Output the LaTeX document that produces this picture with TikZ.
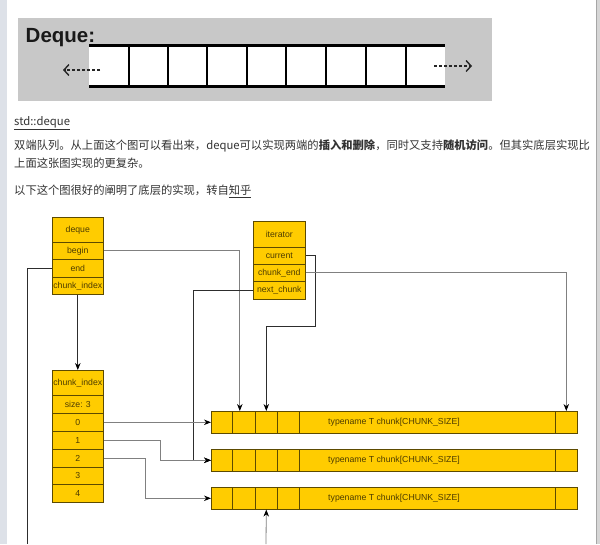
\documentclass[tikz,border=0pt]{standalone}
\usepackage{fontspec}
\setmainfont{Liberation Sans}
\newfontfamily\cjk{Noto Sans CJK SC}
\usetikzlibrary{arrows.meta}

\definecolor{chunkfill}{RGB}{255,204,0}
\definecolor{chunkline}{RGB}{92,74,0}
\definecolor{chunktext}{RGB}{77,60,0}
\definecolor{pagetext}{RGB}{51,51,51}
\definecolor{linegray}{RGB}{128,128,128}
\definecolor{linedark}{RGB}{45,45,45}
\definecolor{boxgray}{RGB}{200,200,200}
\definecolor{sidebar}{RGB}{221,225,232}
\definecolor{edgegray}{RGB}{214,214,214}

\newcommand{\lbl}{\fontsize{8.7}{10}\selectfont}
\newcommand{\pg}{\cjk\fontsize{11.3}{14}\selectfont}

\tikzset{
  cell/.style={draw=chunkline, fill=chunkfill, text=chunktext, font=\lbl,
               line width=0.6pt, inner sep=0pt, anchor=north west, minimum width=51pt},
  slot/.style={cell, minimum height=22pt},
  slottxt/.style={text=chunktext, font=\lbl, inner sep=0pt},
  pagetxt/.style={text=pagetext, font=\pg, inner sep=0pt, anchor=base west},
  link/.style={draw=linegray, line width=0.8pt, -{Stealth[length=7pt,width=5.5pt,color=black]}},
  darklink/.style={link, draw=linedark},
  flow/.style={line width=1.4pt, draw=black!85, dash pattern=on 3pt off 2pt,
               -{Straight Barb[length=5pt,width=11pt]}},
}

\begin{document}
\begin{tikzpicture}[x=1pt,y=-1pt]
  \useasboundingbox (0,0) rectangle (600,544);
  \fill[white] (0,0) rectangle (600,544);
  \fill[sidebar] (0,0) rectangle (7,544);
  \fill[edgegray] (596,0) rectangle (600,544);
  \draw[gray!70] (596,0) -- (596,544);

  % top picture
  \fill[boxgray] (18,18) rectangle (492,101);
  \fill[white] (89,46) rectangle (445,85);
  \draw[line width=3pt] (89,45) -- (445,45);
  \draw[line width=3pt] (89,86) -- (445,86);
  \draw[line width=1.3pt] (129,46) -- (129,85);
  \draw[line width=1.3pt] (168,46) -- (168,85);
  \draw[line width=1.3pt] (207,46) -- (207,85);
  \draw[line width=1.3pt] (247,46) -- (247,85);
  \draw[line width=1.3pt] (286,46) -- (286,85);
  \draw[line width=1.3pt] (326,46) -- (326,85);
  \draw[line width=1.3pt] (366,46) -- (366,85);
  \draw[line width=1.3pt] (406,46) -- (406,85);
  \node[anchor=base west, inner sep=0pt, text=black!90,
        font=\bfseries\fontsize{20.5}{24}\selectfont] (title) at (25.5,42) {Deque:};
  \draw[flow] (100,70) -- (63,70);
  \draw[flow] (434,66) -- (472,66);

  % page text
  \node[pagetxt] (std) at (14,125.5) {\underline{std::deque}};
  \node[pagetxt] (para1) at (14,149.5) {双端队列。从上面这个图可以看出来，deque可以实现两端的{\bfseries 插入和删除}，同时又支持{\bfseries 随机访问}。但其实底层实现比};
  \node[pagetxt] (para2) at (14,167.5) {上面这张图实现的更复杂。};
  \node[pagetxt] (para3) at (14,194.5) {以下这个图很好的阐明了底层的实现，转自\underline{知乎}};

  % deque
  \node[cell, minimum height=25pt] (dq)      at (52,217) {deque};
  \node[cell, minimum height=17pt] (dqbegin) at (52,242) {begin};
  \node[cell, minimum height=18pt] (dqend)   at (52,259) {end};
  \node[cell, minimum height=17pt] (dqidx)   at (52,277) {chunk\_index};

  % iterator
  \node[cell, minimum width=52pt, minimum height=26pt] (it)     at (253,221) {iterator};
  \node[cell, minimum width=52pt, minimum height=17pt] (itcur)  at (253,247) {current};
  \node[cell, minimum width=52pt, minimum height=17pt] (itend)  at (253,264) {chunk\_end};
  \node[cell, minimum width=52pt, minimum height=18pt] (itnext) at (253,281) {next\_chunk};

  % chunk index
  \node[cell, minimum height=25pt] (ci)   at (52,370) {chunk\_index};
  \node[cell, minimum height=18pt] (cisz) at (52,395) {size: 3};
  \node[cell, minimum height=18pt] (r0)   at (52,413) {0};
  \node[cell, minimum height=18pt] (r1)   at (52,431) {1};
  \node[cell, minimum height=18pt] (r2)   at (52,449) {2};
  \node[cell, minimum height=17pt] (r3)   at (52,467) {3};
  \node[cell, minimum height=18pt] (r4)   at (52,484) {4};

  % chunks
  \node[slot, minimum width=21pt]  (c1a) at (211,411) {};
  \node[slot, minimum width=23pt]  (c1b) at (232,411) {};
  \node[slot, minimum width=22pt]  (c1c) at (255,411) {};
  \node[slot, minimum width=22pt]  (c1d) at (277,411) {};
  \node[slot, minimum width=256pt] (c1e) at (299,411) {};
  \node[slot, minimum width=22pt]  (c1z) at (555,411) {};
  \node[slottxt] (c1t) at (394,422) {typename T chunk[CHUNK\_SIZE]};

  \node[slot, minimum width=21pt]  (c2a) at (211,449) {};
  \node[slot, minimum width=23pt]  (c2b) at (232,449) {};
  \node[slot, minimum width=22pt]  (c2c) at (255,449) {};
  \node[slot, minimum width=22pt]  (c2d) at (277,449) {};
  \node[slot, minimum width=256pt] (c2e) at (299,449) {};
  \node[slot, minimum width=22pt]  (c2z) at (555,449) {};
  \node[slottxt] (c2t) at (394,460) {typename T chunk[CHUNK\_SIZE]};

  \node[slot, minimum width=21pt]  (c3a) at (211,487) {};
  \node[slot, minimum width=23pt]  (c3b) at (232,487) {};
  \node[slot, minimum width=22pt]  (c3c) at (255,487) {};
  \node[slot, minimum width=22pt]  (c3d) at (277,487) {};
  \node[slot, minimum width=256pt] (c3e) at (299,487) {};
  \node[slot, minimum width=22pt]  (c3z) at (555,487) {};
  \node[slottxt] (c3t) at (394,498) {typename T chunk[CHUNK\_SIZE]};

  % free ends
  \coordinate (endout) at (27,544);
  \coordinate (curout) at (266,544);

  % connectors
  \draw[link] (dqbegin.east) -| ([xshift=-4pt]c1b.north);
  \draw[darklink, -] (dqend.west) -| (endout);
  \draw[darklink] (dqidx.south) -- (ci.north);
  \draw[darklink] (itcur.east) -- ++(10,0) -- ++(0,71) -| (c1c.north);
  \draw[link] (itend.east) -| (c1z.north);
  \draw[darklink] (itnext.west) -- ++(-60,0) |- (c2a.west);
  \draw[link] (r0.east) -- (c1a.west);
  \draw[link] (r1.east) -- ++(57,0) |- (c2a.west);
  \draw[link] (r2.east) -- ++(42,0) |- (c3a.west);
  \draw[link] (curout) -- (c3c.south);
\end{tikzpicture}
\end{document}
